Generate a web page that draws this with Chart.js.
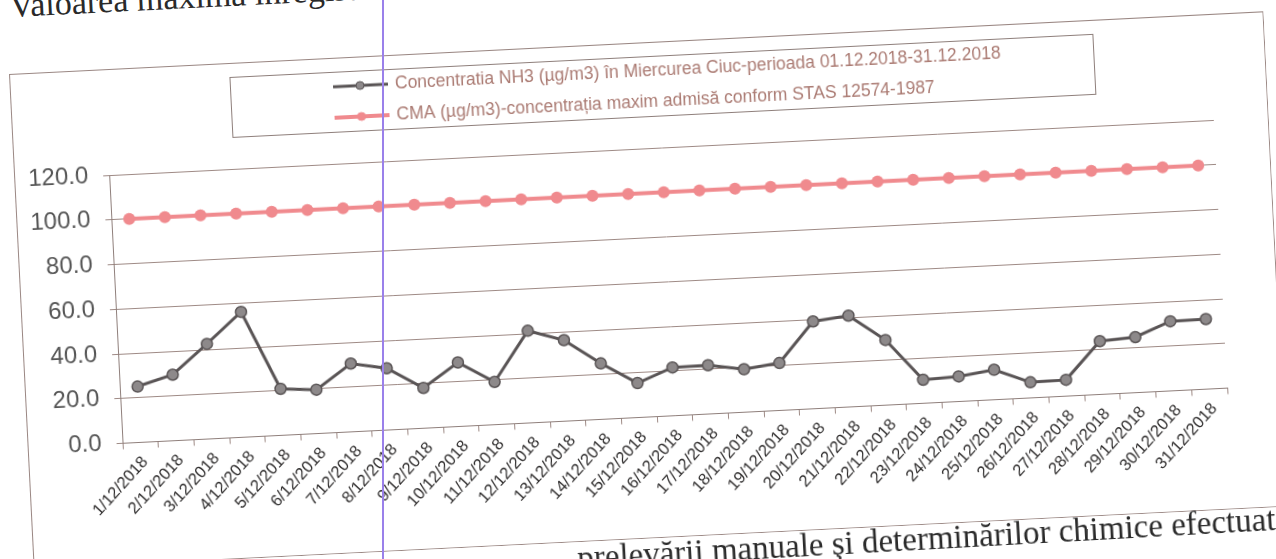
<!DOCTYPE html>
<html><head><meta charset="utf-8">
<script src="https://cdn.jsdelivr.net/npm/chart.js@4"></script>
<style>
html,body{margin:0;padding:0;background:#fff;width:1276px;height:559px;overflow:hidden}
#doc{position:absolute;left:0;top:0;width:1276px;height:559px;overflow:hidden;background:#fff}
#wrap{position:absolute;left:8.5px;top:73.5px;width:1256px;height:496px;transform-origin:0 0;transform:rotate(-2.86deg)}
.txt{position:absolute;font-family:"Liberation Serif","Times New Roman",serif;white-space:nowrap;color:#2a2a2a}
#top{font-size:34px;line-height:34px;height:34px;transform-origin:0 28.5px;transform:rotate(-2.86deg)}
#bottom{font-size:33px;line-height:33px;height:33px;transform-origin:0 27.6px;transform:rotate(-3.2deg)}
#vline{position:absolute;left:382px;top:0;width:2px;height:559px;background:#9a80ea}
</style></head>
<body>
<div id="doc">
<div id="top" class="txt" style="left:10px;top:-11.5px">Valoarea maximă înregistrată</div>
<div id="wrap"><canvas id="c"></canvas></div>
<div id="bottom" class="txt" style="left:578px;top:541.5px">prelevării manuale şi determinărilor chimice efectuate</div>
<div id="vline"></div>
</div>
<script>
const categories = ["1/12/2018","2/12/2018","3/12/2018","4/12/2018","5/12/2018","6/12/2018","7/12/2018","8/12/2018","9/12/2018","10/12/2018","11/12/2018","12/12/2018","13/12/2018","14/12/2018","15/12/2018","16/12/2018","17/12/2018","18/12/2018","19/12/2018","20/12/2018","21/12/2018","22/12/2018","23/12/2018","24/12/2018","25/12/2018","26/12/2018","27/12/2018","28/12/2018","29/12/2018","30/12/2018","31/12/2018"];
const nh3Values = [25.0,29.5,42.5,56.0,20.8,19.6,30.5,27.6,18.0,28.6,19.1,41.2,36.2,25.0,15.4,21.6,21.8,19.2,21.2,39.0,40.8,29.1,10.5,11.2,13.4,7.0,7.3,23.8,24.8,31.1,31.3];
const cmaValues = [100,100,100,100,100,100,100,100,100,100,100,100,100,100,100,100,100,100,100,100,100,100,100,100,100,100,100,100,100,100,100];
const yTickValues = [0,20,40,60,80,100,120];
const seriesLabels = ["Concentratia NH3 (µg/m3) în Miercurea Ciuc-perioada 01.12.2018-31.12.2018","CMA (µg/m3)-concentrația maxim admisă conform STAS 12574-1987"];

const FONT = 'Arial, "Liberation Sans", sans-serif';
const gridCol = '#9e8a85';

const framePlugin = {
  id:'frame',
  afterDraw(chart){
    const c = chart.ctx; c.save();
    c.strokeStyle = '#9a8783'; c.lineWidth = 1;
    c.strokeRect(0.5,0.5,chart.width-1,chart.height-1);
    c.strokeStyle = '#8e7f7b';
    c.strokeRect(220.5,14.5,864,60);
    const rows = [29,60];
    chart.data.datasets.forEach((ds,i)=>{
      const y = rows[i];
      c.strokeStyle = ds.borderColor; c.lineWidth = ds.borderWidth;
      c.beginPath(); c.moveTo(323,y); c.lineTo(378,y); c.stroke();
      c.fillStyle = ds.pointBackgroundColor; c.strokeStyle = ds.pointBorderColor; c.lineWidth = 1;
      c.beginPath(); c.arc(350,y,4,0,Math.PI*2); c.fill(); c.stroke();
      c.fillStyle = '#ab7b73'; c.font = '17.5px ' + FONT; c.textBaseline = 'middle'; c.textAlign = 'left';
      c.fillText(ds.label,385,y);
    });
    c.restore();
  }
};

new Chart(document.getElementById('c'), {
  type:'line',
  data:{labels:categories, datasets:[
    {label:seriesLabels[0], data:nh3Values, borderColor:'#595455', borderWidth:3, pointRadius:5.5, pointBackgroundColor:'#8d898a', pointBorderColor:'#5a5556', pointBorderWidth:1.5, tension:0},
    {label:seriesLabels[1], data:cmaValues, borderColor:'#f08a8e', borderWidth:4, pointRadius:6, pointBackgroundColor:'#f08a8e', pointBorderColor:'#f08a8e', pointBorderWidth:0, tension:0}
  ]},
  options:{
    responsive:true, maintainAspectRatio:false, animation:false,
    layout:{padding:{top:106,right:55,left:0,bottom:0}},
    plugins:{legend:{display:false}, tooltip:{enabled:false}},
    scales:{
      x:{
        offset:true,
        grid:{offset:true, drawOnChartArea:false, drawTicks:true, tickLength:6, color:gridCol},
        border:{color:'#8f7f7b', width:1},
        ticks:{autoSkip:false, minRotation:45, maxRotation:45, padding:4, labelOffset:4, color:'#2e2c2c', font:{family:FONT, size:16.5}},
        afterFit(s){ s.height = 121.5; }
      },
      y:{
        min:0, max:120,
        afterBuildTicks(s){ s.ticks = yTickValues.map(v=>({value:v})); },
        grid:{color:gridCol, tickLength:6, drawTicks:true},
        border:{color:'#8f7f7b', width:1},
        ticks:{padding:15, color:'#555', font:{family:FONT, size:24}, callback:v=>Number(v).toFixed(1)},
        afterFit(s){ s.width = 95; }
      }
    }
  },
  plugins:[framePlugin]
});
</script>
</body></html>
